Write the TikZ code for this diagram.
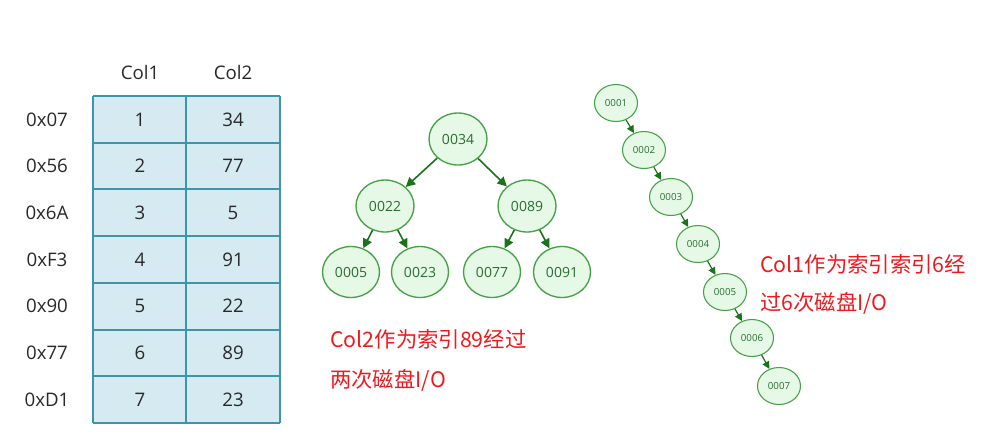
\documentclass[tikz,border=0pt]{standalone}
\usepackage{fontspec}
\setmainfont{Open Sans}
\newfontfamily\cjkfont{Noto Sans CJK SC}
\usetikzlibrary{shapes.geometric,arrows.meta}
\definecolor{tabfill}{RGB}{213,235,241}
\definecolor{tabline}{RGB}{62,148,168}
\definecolor{nodefill}{RGB}{230,248,230}
\definecolor{nodeline}{RGB}{70,160,70}
\definecolor{nodetext}{RGB}{40,110,50}
\definecolor{arrowcol}{RGB}{25,115,25}
\definecolor{notered}{RGB}{240,25,30}
\definecolor{txt}{RGB}{40,40,40}
\tikzset{
  tlabel/.style={text=txt,font=\fontsize{14}{16}\selectfont,inner sep=0pt},
  bignode/.style={ellipse,draw=nodeline,fill=nodefill,line width=1pt,minimum width=58*0.75pt,minimum height=52*0.75pt,inner sep=0pt,text=nodetext,font=\fontsize{10.5}{12}\selectfont},
  smallnode/.style={ellipse,draw=nodeline,fill=nodefill,line width=0.8pt,minimum width=43*0.75pt,minimum height=37*0.75pt,inner sep=0pt,text=nodetext,font=\fontsize{7.3}{8}\selectfont},
  bigarrow/.style={draw=arrowcol,line width=1.2pt,-{Triangle[length=7pt,width=7pt]}},
  smallarrow/.style={draw=arrowcol,line width=0.9pt,-{Triangle[length=5.5pt,width=5.5pt]}},
  note/.style={text=notered,font=\cjkfont\fontsize{16}{18}\selectfont,inner sep=0pt,anchor=west}
}
\begin{document}
\begin{tikzpicture}[x=0.75pt,y=-0.75pt]
\useasboundingbox (0,0) rectangle (982,433);
% table
\fill[tabfill] (93,96) rectangle (280,423);
\foreach \yy in {96,142.7,189.4,236.1,282.9,329.6,376.3,423}
  \draw[tabline,line width=1.6pt] (93,\yy) -- (280,\yy);
\foreach \xx in {93,186,280}
  \draw[tabline,line width=1.6pt] (\xx,96) -- (\xx,423);
\node[tlabel] (h1) at (140,72) {Col1};
\node[tlabel] (h2) at (233,72) {Col2};
\foreach \i/\a/\b/\c in {0/0x07/1/34,1/0x56/2/77,2/0x6A/3/5,3/0xF3/4/91,4/0x90/5/22,5/0x77/6/89,6/0xD1/7/23}{
  \node[tlabel] (r\i) at (47,{119.4+46.7*\i}) {\a};
  \node[tlabel] (c1\i) at (140,{119.4+46.7*\i}) {\b};
  \node[tlabel] (c2\i) at (233,{119.4+46.7*\i}) {\c};
}
% balanced tree
\node[bignode] (t34) at (458,139) {0034};
\node[bignode] (t22) at (385,206) {0022};
\node[bignode] (t89) at (527,206) {0089};
\node[bignode,minimum width=57*0.75pt,minimum height=51*0.75pt] (t05) at (351,272) {0005};
\node[bignode,minimum width=57*0.75pt,minimum height=51*0.75pt] (t23) at (420,272) {0023};
\node[bignode,minimum width=57*0.75pt,minimum height=51*0.75pt] (t77) at (492,272) {0077};
\node[bignode,minimum width=57*0.75pt,minimum height=51*0.75pt] (t91) at (562,272) {0091};
\draw[bigarrow] (t34) -- (t22);
\draw[bigarrow] (t34) -- (t89);
\draw[bigarrow] (t22) -- (t05);
\draw[bigarrow] (t22) -- (t23);
\draw[bigarrow] (t89) -- (t77);
\draw[bigarrow] (t89) -- (t91);
% chain
\node[smallnode] (s1) at (616,103) {0001};
\node[smallnode] (s2) at (644,150) {0002};
\node[smallnode] (s3) at (671,197) {0003};
\node[smallnode] (s4) at (698,244) {0004};
\node[smallnode] (s5) at (725,292) {0005};
\node[smallnode] (s6) at (752,338) {0006};
\node[smallnode] (s7) at (779,386) {0007};
\draw[smallarrow] (s1) -- (s2);
\draw[smallarrow] (s2) -- (s3);
\draw[smallarrow] (s3) -- (s4);
\draw[smallarrow] (s4) -- (s5);
\draw[smallarrow] (s5) -- (s6);
\draw[smallarrow] (s6) -- (s7);
% notes
\node[note] (n1a) at (330,339) {Col2作为索引89经过};
\node[note] (n1b) at (330,380) {两次磁盘I/O};
\node[note] (n2a) at (760,264) {Col1作为索引索引6经};
\node[note] (n2b) at (760,303) {过6次磁盘I/O};
\end{tikzpicture}
\end{document}
